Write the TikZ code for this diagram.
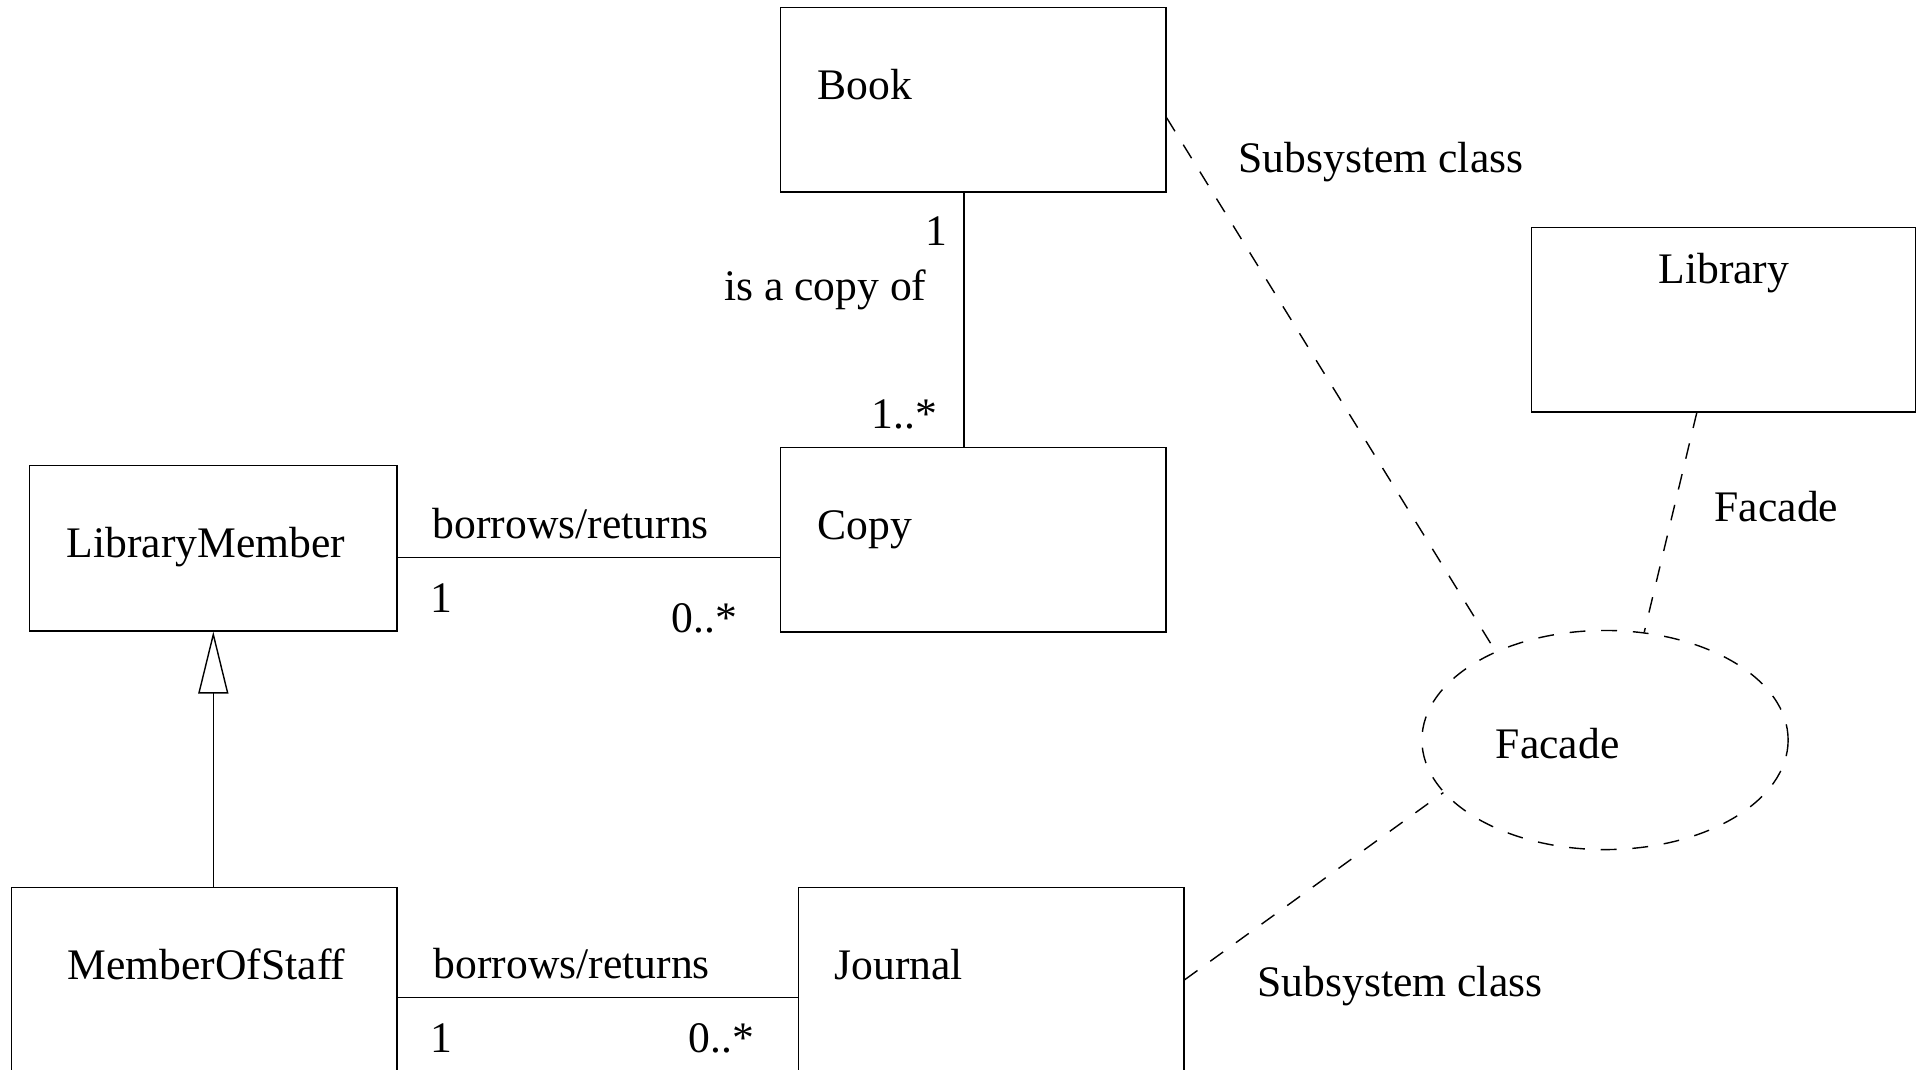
\documentclass[tikz,border=0pt]{standalone}
\usepackage{fontspec}
\setmainfont{Liberation Serif}
\usetikzlibrary{shapes.geometric}
\usetikzlibrary{arrows.meta}

\tikzset{
  classbox/.style={draw, rectangle, inner sep=0pt, anchor=north west,
    minimum width=3.85cm, minimum height=1.84cm},
  classname/.style={inner sep=0pt, anchor=base west, xshift=.37cm, yshift=-.92cm},
  txt/.style={inner sep=0pt, anchor=base west},
  txtr/.style={inner sep=0pt, anchor=base east},
  facadelink/.style={dash pattern=on 4.5pt off 4.5pt},
  inherit/.style={-{Triangle[open,length=.62cm,width=.3cm]}}
}

\begin{document}
\begin{tikzpicture}[x=.01cm,y=-.01cm,line width=.4pt,font=\fontsize{12.4pt}{15pt}\selectfont]
  \clip (0,0) rectangle (1916,1069);
  \node[classbox,label={[classname]north west:Book}] (book) at (780,7) {};
  \node[classbox,label={[classname]north west:Copy}] (copy) at (780,447) {};
  \node[classbox,minimum width=3.67cm,minimum height=1.65cm,
    label={[classname]north west:LibraryMember}] (member) at (29,465) {};
  \node[classbox,label={[classname,xshift=.19cm]north west:MemberOfStaff}] (staff) at (11,887) {};
  \node[classbox,label={[classname,xshift=-.01cm]north west:Journal}] (journal) at (798,887) {};
  \node[classbox,minimum width=3.84cm,
    label={[inner sep=0pt,anchor=base,yshift=-.56cm]north:Library}] (library) at (1531,227) {};
  \node[draw,ellipse,facadelink,inner sep=0pt,minimum width=3.66cm,minimum height=2.19cm,
    label={[txt,xshift=.74cm,yshift=-.18cm]west:Facade}] (facade) at (1605,740) {};

  \draw ([xshift=-.095cm]book.south) -- ([xshift=-.095cm]copy.north);
  \draw ([yshift=-.095cm]member.east) -- ([yshift=-.095cm]member.east -| copy.west);
  \draw ([yshift=-.18cm]staff.east) -- ([yshift=-.18cm]staff.east -| journal.west);
  \draw[inherit] (member.south |- staff.north) -- (member.south);

  \draw[facadelink] ([yshift=-.18cm]book.east) -- (facade.141);
  \draw[facadelink] ([xshift=-.27cm]library.south) -- (facade.70);
  \draw[facadelink] (journal.east) -- (facade.198);

  \node[txtr] (bookend) at (948,245) {1};
  \node[txtr] (copyof) at (927,300) {is a copy of};
  \node[txtr] (copyend) at (938,428) {1..*};
  \node[txt] (borrowsa) at (432,538) {borrows/returns};
  \node[txt] (membera) at (430,612) {1};
  \node[txt] (copya) at (671,632) {0..*};
  \node[txt] (borrowsb) at (433,978) {borrows/returns};
  \node[txt] (staffb) at (430,1052) {1};
  \node[txt] (journalb) at (688,1052) {0..*};
  \node[txt] (subsysa) at (1238,172) {Subsystem class};
  \node[txt] (facadeb) at (1714,521) {Facade};
  \node[txt] (subsysb) at (1257,996) {Subsystem class};
\end{tikzpicture}
\end{document}
